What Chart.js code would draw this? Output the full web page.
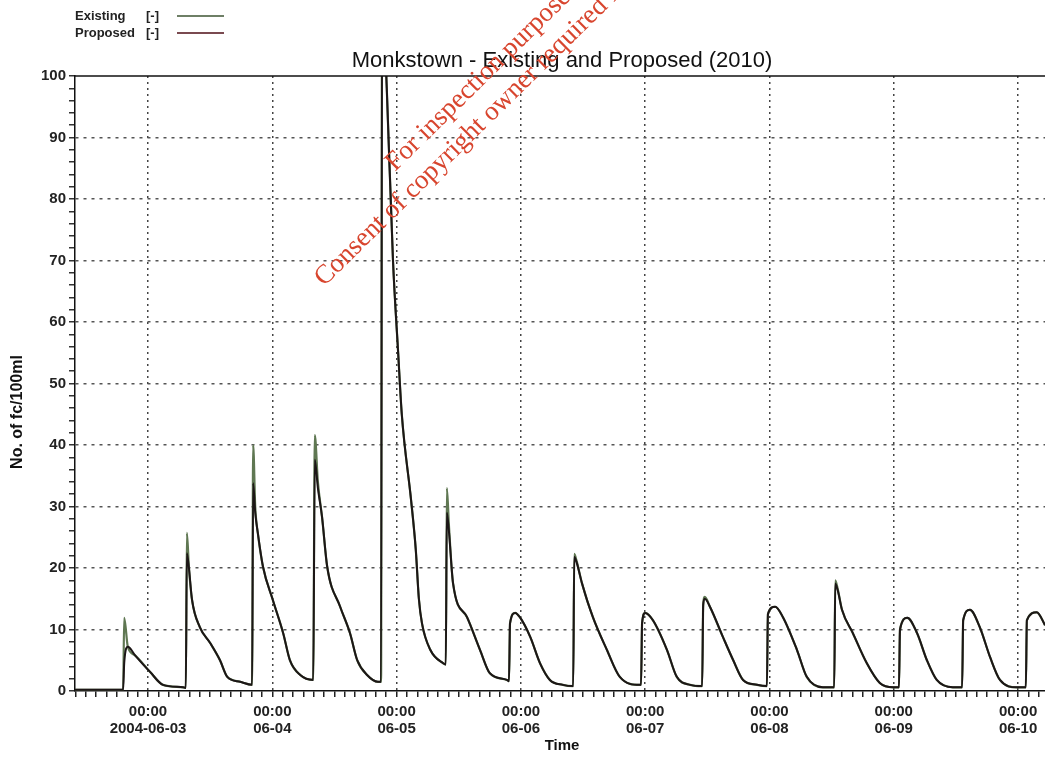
<!DOCTYPE html>
<html>
<head>
<meta charset="utf-8">
<script src="https://cdn.jsdelivr.net/npm/chart.js@4.4.1/dist/chart.umd.min.js"></script>
<style>
    body { margin: 0; background: #fff; }
    #wrap { position: relative; width: 1045px; height: 757px; }
    .leg { position: absolute; font: bold 13px "Liberation Sans", Arial, sans-serif; color: #222; }
    .sw { position: absolute; height: 2px; width: 47px; }
</style>
</head>
<body>
<div id="wrap">
    <canvas id="grafico"></canvas>
    <span class="leg" style="left:75px; top:8px;">Existing</span>
    <span class="leg" style="left:146px; top:8px;">[-]</span>
    <div class="sw" style="left:177px; top:15px; background:#6e7f66;"></div>
    <span class="leg" style="left:75px; top:25px;">Proposed</span>
    <span class="leg" style="left:146px; top:25px;">[-]</span>
    <div class="sw" style="left:177px; top:32px; background:#7a4a50;"></div>
</div>
<script>
// horas desde 2004-06-03 00:00
const horas = [
    -14.1, -4.8, -4.6, -3.9, -2.5, 0.4, 2.9, 6.8, 7.3,
    7.5, 7.9, 8.5, 10.0, 12.0, 13.9, 15.3, 17.8, 20.1,
    20.3, 20.7, 21.2, 22.2, 24.1, 26.1, 27.4, 29.4, 31.9,
    32.2, 32.8, 33.6, 34.6, 37.1, 39.0, 40.4, 42.3, 44.4, 45.0,
    45.2, 46.1, 47.3, 48.3, 49.0, 50.8, 51.7, 52.3, 52.9, 54.5, 57.0, 57.5,
    57.7, 58.1, 58.9, 61.6, 64.1, 66.0, 69.3, 69.7,
    69.9, 70.9, 71.8, 73.8, 75.7, 77.6, 80.1, 82.1,
    82.3, 82.8, 83.8, 85.9, 88.6, 91.1, 95.0, 95.2,
    95.4, 96.0, 97.5, 100.2, 102.1, 104.7, 107.0,
    107.2, 107.5, 108.5, 111.0, 113.0, 114.9, 117.6, 119.5,
    119.7, 121.1, 122.6, 125.3, 127.2, 130.3, 132.5,
    132.7, 133.2, 134.0, 136.1, 138.8, 141.3, 143.9, 145.0,
    145.2, 146.6, 148.5, 150.4, 152.3, 155.4, 157.2,
    157.4, 158.7, 160.6, 162.6, 164.5, 167.8, 169.5,
    169.7, 171.6, 173.2, 174.2
];

const existente = [
    0.2, 0.2, 11.9, 7.2, 5.8, 3.1, 1.0, 0.6, 0.5,
    25.7, 20.0, 14.8, 10.4, 7.8, 5.0, 2.3, 1.5, 1.0,
    40.0, 30.0, 25.7, 20.2, 14.8, 9.4, 5.0, 2.6, 1.8,
    41.6, 34.0, 28.3, 20.2, 13.7, 9.4, 5.0, 2.6, 1.5, 1.5,
    115, 98, 70, 55, 45, 31, 23, 15, 11, 6.7, 4.5, 4.3,
    33.0, 27.0, 17.5, 12.0, 6.7, 2.9, 1.8, 1.6,
    11.0, 12.7, 12.0, 8.8, 4.5, 1.8, 1.0, 0.8,
    22.3, 21.0, 17.5, 12.0, 6.7, 2.3, 1.0, 1.0,
    11.0, 12.7, 11.5, 6.7, 2.3, 1.0, 0.8,
    14.0, 15.3, 13.7, 8.8, 5.0, 1.8, 1.0, 0.8,
    12.5, 13.7, 12.0, 6.7, 2.3, 0.6, 0.6,
    18.0, 16.5, 13.2, 9.4, 4.5, 1.3, 0.6, 0.6,
    10.0, 11.9, 9.4, 5.0, 1.8, 0.6, 0.6,
    11.5, 13.2, 10.4, 5.5, 1.8, 0.6, 0.6,
    11.5, 12.8, 10.7, 9.0
];

const propuesto = [
    0.2, 0.2, 4.5, 7.2, 5.8, 3.1, 1.0, 0.6, 0.5,
    22.4, 20.0, 14.8, 10.4, 7.8, 5.0, 2.3, 1.5, 1.0,
    33.8, 29.0, 25.7, 20.2, 14.8, 9.4, 5.0, 2.6, 1.8,
    37.6, 33.0, 28.3, 20.2, 13.7, 9.4, 5.0, 2.6, 1.5, 1.5,
    115, 98, 70, 55, 45, 31, 23, 15, 11, 6.7, 4.5, 4.3,
    29.0, 26.0, 17.5, 12.0, 6.7, 2.9, 1.8, 1.6,
    11.0, 12.7, 12.0, 8.8, 4.5, 1.8, 1.0, 0.8,
    21.8, 20.8, 17.5, 12.0, 6.7, 2.3, 1.0, 1.0,
    11.0, 12.7, 11.5, 6.7, 2.3, 1.0, 0.8,
    14.0, 15.0, 13.7, 8.8, 5.0, 1.8, 1.0, 0.8,
    12.5, 13.7, 12.0, 6.7, 2.3, 0.6, 0.6,
    17.5, 16.3, 13.2, 9.4, 4.5, 1.3, 0.6, 0.6,
    10.0, 11.9, 9.4, 5.0, 1.8, 0.6, 0.6,
    11.5, 13.2, 10.4, 5.5, 1.8, 0.6, 0.6,
    11.5, 12.8, 10.7, 9.0
];

const etiquetasDias = ['2004-06-03', '06-04', '06-05', '06-06', '06-07', '06-08', '06-09', '06-10'];
const tituloGrafico = 'Monkstown - Existing and Proposed (2010)';
const tituloY = 'No. of fc/100ml';
const tituloX = 'Time';
const marcaAgua = ['For inspection purposes only.', 'Consent of copyright owner required for any other use.'];

const fuente = '"Liberation Sans", Arial, sans-serif';

// ticks cada 2 horas en X y cada 2 unidades en Y
const ticksX = [];
for (let h = -14; h <= 172; h += 2) ticksX.push(h);
const ticksY = [];
for (let v = 0; v <= 100; v += 2) ticksY.push(v);

function puntos(serie) {
    return horas.map((h, i) => ({ x: h, y: serie[i] }));
}

const decoraciones = {
    id: 'decoraciones',
    afterDraw(chart) {
        const c = chart.ctx;
        const a = chart.chartArea;
        c.save();
        // borde superior
        c.strokeStyle = '#111';
        c.lineWidth = 1.5;
        c.beginPath();
        c.moveTo(a.left, a.top);
        c.lineTo(a.right, a.top);
        c.stroke();

        c.fillStyle = '#111';
        c.textAlign = 'center';
        c.textBaseline = 'middle';
        c.font = '22px ' + fuente;
        c.fillText(tituloGrafico, 562, 61);

        c.font = 'bold 15px ' + fuente;
        c.fillText(tituloX, 562, 746);

        c.save();
        c.translate(18, 412);
        c.rotate(-Math.PI / 2);
        c.font = 'bold 16px ' + fuente;
        c.fillText(tituloY, 0, 0);
        c.restore();

        // marca de agua
        c.fillStyle = '#d8452e';
        c.textAlign = 'left';
        c.textBaseline = 'alphabetic';
        c.font = '27px "Liberation Serif", "Times New Roman", serif';
        const ang = -44.5 * Math.PI / 180;
        c.save();
        c.translate(395, 172);
        c.rotate(ang);
        c.fillText(marcaAgua[0], 0, 0);
        c.restore();
        c.save();
        c.translate(324, 287);
        c.rotate(ang);
        c.fillText(marcaAgua[1], 0, 0);
        c.restore();
        c.restore();
    }
};

const ctx = document.getElementById('grafico').getContext('2d');
const myChart = new Chart(ctx, {
    type: 'line',
    data: {
        datasets: [
            {
                label: 'Existing [-]',
                data: puntos(existente),
                borderColor: '#5f7752',
                borderWidth: 2.2,
                pointRadius: 0,
                order: 2,
                cubicInterpolationMode: 'monotone'
            },
            {
                label: 'Proposed [-]',
                data: puntos(propuesto),
                borderColor: '#1c1616',
                borderWidth: 2,
                pointRadius: 0,
                order: 1,
                cubicInterpolationMode: 'monotone'
            }
        ]
    },
    options: {
        responsive: true,
        maintainAspectRatio: false,
        animation: false,
        layout: { padding: { top: 76, right: 0, left: 0, bottom: 0 } },
        plugins: {
            legend: { display: false },
            title: { display: false },
            tooltip: { enabled: false }
        },
        scales: {
            x: {
                type: 'linear',
                min: -14.1,
                max: 173.2,
                afterBuildTicks: axis => { axis.ticks = ticksX.map(v => ({ value: v })); },
                afterFit: axis => { axis.height = 66; },
                ticks: {
                    autoSkip: false,
                    maxRotation: 0,
                    padding: 6,
                    color: '#222',
                    font: { family: fuente, size: 15, weight: 'bold', lineHeight: 1.13 },
                    callback: v => {
                        if (v % 24 !== 0) return '';
                        const d = v / 24;
                        return (d >= 0 && d < etiquetasDias.length) ? ['00:00', etiquetasDias[d]] : '';
                    }
                },
                grid: {
                    color: c => (c.tick && c.tick.value % 24 === 0) ? '#444' : 'rgba(0,0,0,0)',
                    lineWidth: 1.5,
                    tickColor: '#222',
                    tickLength: 6,
                    tickBorderDash: []
                },
                border: { display: true, color: '#111', width: 1.5, dash: [2, 4] }
            },
            y: {
                min: 0,
                max: 100,
                afterBuildTicks: axis => { axis.ticks = ticksY.map(v => ({ value: v })); },
                afterFit: axis => { axis.width = 75; },
                ticks: {
                    autoSkip: false,
                    padding: 3,
                    color: '#222',
                    font: { family: fuente, size: 15, weight: 'bold' },
                    callback: v => (v % 10 === 0 ? v : '')
                },
                grid: {
                    color: c => (c.tick && c.tick.value % 10 === 0 && c.tick.value !== 0 && c.tick.value !== 100) ? '#555' : 'rgba(0,0,0,0)',
                    lineWidth: 1.5,
                    tickColor: '#333',
                    tickLength: 6,
                    tickBorderDash: []
                },
                border: { display: true, color: '#111', width: 1.5, dash: [3, 5] }
            }
        }
    },
    plugins: [decoraciones]
});
</script>
</body>
</html>
